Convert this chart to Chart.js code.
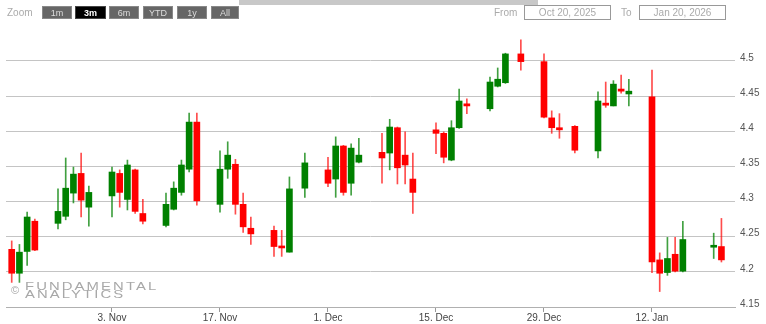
<!DOCTYPE html>
<html>
<head>
<meta charset="utf-8">
<script src="https://cdn.jsdelivr.net/npm/chart.js@4"></script>
<style>
  html, body { margin: 0; padding: 0; background: #fff; }
  #wrap { position: relative; width: 766px; height: 324px; overflow: hidden; font-family: "Liberation Sans", Arial, sans-serif; }
  #wrap canvas { position: absolute; left: 0; top: 0; }
  .scroll { position: absolute; left: 239px; top: 0; width: 299px; height: 5px; background: #c8c8c8; }
  .zl { position: absolute; left: 7px; top: 7px; font-size: 10px; color: #aaa; }
  .btn { position: absolute; top: 6px; height: 13px; line-height: 13px; font-size: 9px; color: #ddd; background: #666; text-align: center; border: 1px solid #888; box-sizing: border-box; }
  .btn.on { background: #000; color: #fff; font-weight: bold; border-color: #444; }
  .lbl { position: absolute; top: 7px; font-size: 10px; color: #aaa; }
  .inp { position: absolute; top: 5px; height: 15px; line-height: 13px; font-size: 10px; color: #aaa; border: 1px solid #999; box-sizing: border-box; text-align: center; }
  .wm { position: absolute; left: 25px; font-size: 11px; line-height: 11px; letter-spacing: 1.55px; color: #a8a8a8; transform: scaleX(1.35); transform-origin: 0 0; white-space: nowrap; }
  .cp { position: absolute; left: 11px; top: 285px; font-size: 11px; line-height: 11px; color: #a8a8a8; }
</style>
</head>
<body>
<div id="wrap">
  <canvas id="c" width="766" height="324"></canvas>
  <div class="scroll"></div>
  <div class="zl">Zoom</div>
  <div class="btn" style="left:42px;width:30px">1m</div>
  <div class="btn on" style="left:75px;width:31px">3m</div>
  <div class="btn" style="left:109px;width:30px">6m</div>
  <div class="btn" style="left:143px;width:30px">YTD</div>
  <div class="btn" style="left:177px;width:30px">1y</div>
  <div class="btn" style="left:211px;width:28px">All</div>
  <div class="lbl" style="left:494px">From</div>
  <div class="inp" style="left:524px;width:87px">Oct 20, 2025</div>
  <div class="lbl" style="left:621px">To</div>
  <div class="inp" style="left:639px;width:87px">Jan 20, 2026</div>
  <div class="cp">©</div>
  <div class="wm" style="top:281px">FUNDAMENTAL</div>
  <div class="wm" style="top:289px">ANALYTICS</div>
</div>
<script>
// ---- data ----
const dates = [
  "2025-10-21","2025-10-22","2025-10-23","2025-10-24",
  "2025-10-27","2025-10-28","2025-10-29","2025-10-30","2025-10-31",
  "2025-11-03","2025-11-04","2025-11-05","2025-11-06","2025-11-07",
  "2025-11-10","2025-11-11","2025-11-12","2025-11-13","2025-11-14",
  "2025-11-17","2025-11-18","2025-11-19","2025-11-20","2025-11-21",
  "2025-11-24","2025-11-25","2025-11-26","2025-11-28",
  "2025-12-01","2025-12-02","2025-12-03","2025-12-04","2025-12-05",
  "2025-12-08","2025-12-09","2025-12-10","2025-12-11","2025-12-12",
  "2025-12-15","2025-12-16","2025-12-17","2025-12-18","2025-12-19",
  "2025-12-22","2025-12-23","2025-12-24","2025-12-26",
  "2025-12-29","2025-12-30","2025-12-31","2026-01-02",
  "2026-01-05","2026-01-06","2026-01-07","2026-01-08","2026-01-09",
  "2026-01-12","2026-01-13","2026-01-14","2026-01-15","2026-01-16",
  "2026-01-20","2026-01-21"
];
const opens = [
  4.232,4.198,4.229,4.272, 4.269,4.279,4.312,4.340,4.292, 4.308,4.340,4.303,4.345,4.283,
  4.266,4.289,4.313,4.346,4.413, 4.296,4.346,4.353,4.296,4.262, 4.259,4.236,4.228,4.319,
  4.345,4.332,4.379,4.326,4.356, 4.370,4.369,4.405,4.366,4.332, 4.402,4.397,4.359,4.405,4.439,
  4.432,4.464,4.469,4.510, 4.499,4.419,4.405,4.407, 4.372,4.440,4.436,4.460,4.453,
  4.449,4.217,4.199,4.225,4.201, 4.235,4.236
];
const highs = [
  4.244,4.239,4.285,4.275, 4.318,4.362,4.349,4.369,4.322, 4.349,4.345,4.359,4.346,4.303,
  4.312,4.328,4.359,4.426,4.426, 4.372,4.385,4.360,4.312,4.278, 4.265,4.259,4.335,4.369,
  4.363,4.392,4.380,4.382,4.390, 4.397,4.417,4.406,4.399,4.369, 4.412,4.399,4.415,4.460,4.446,
  4.477,4.490,4.511,4.530, 4.510,4.429,4.425,4.408, 4.456,4.470,4.472,4.480,4.474,
  4.487,4.227,4.249,4.249,4.272, 4.255,4.276
];
const lows = [
  4.185,4.185,4.209,4.230, 4.261,4.274,4.298,4.278,4.265, 4.278,4.292,4.288,4.283,4.268,
  4.264,4.288,4.309,4.342,4.295, 4.285,4.333,4.282,4.256,4.239, 4.222,4.222,4.228,4.306,
  4.321,4.306,4.309,4.309,4.355, 4.326,4.345,4.325,4.325,4.283, 4.368,4.355,4.358,4.404,4.425,
  4.429,4.463,4.468,4.487, 4.419,4.397,4.390,4.369, 4.362,4.434,4.436,4.454,4.436,
  4.199,4.172,4.195,4.200,4.200, 4.219,4.214
];
const closes = [
  4.198,4.228,4.278,4.231, 4.286,4.319,4.339,4.302,4.313, 4.342,4.313,4.352,4.286,4.272,
  4.296,4.319,4.352,4.413,4.301, 4.346,4.366,4.296,4.264,4.254, 4.236,4.234,4.318,4.355,
  4.326,4.379,4.313,4.376,4.366, 4.362,4.406,4.348,4.352,4.313, 4.397,4.363,4.405,4.443,4.436,
  4.470,4.474,4.510,4.499, 4.420,4.405,4.402,4.373, 4.443,4.437,4.467,4.457,4.457,
  4.214,4.198,4.219,4.201,4.246, 4.236,4.217
];
const xTickDates = ["2025-11-03","2025-11-17","2025-12-01","2025-12-15","2025-12-29","2026-01-12"];
const xTickLabels = ["3. Nov","17. Nov","1. Dec","15. Dec","29. Dec","12. Jan"];
const yTicks = [4.15, 4.2, 4.25, 4.3, 4.35, 4.4, 4.45, 4.5];

// day numbers counted from Oct 20, 2025
const day0 = Date.UTC(2025, 9, 20);
const toDay = s => { const [y, m, d] = s.split("-").map(Number); return (Date.UTC(y, m - 1, d) - day0) / 86400000; };
const xs = dates.map(toDay);
const xTicks = xTickDates.map(toDay);

const UP = "#008000", DOWN = "#ff0000";
const up = i => closes[i] >= opens[i];

const bodies = xs.map((x, i) => ({ x, y: [opens[i], closes[i]] }));
const wicks = xs.map((x, i) => ({ x, y: [lows[i], highs[i]] }));

const FONT = { family: "'Liberation Sans', Arial, sans-serif", size: 10 };

new Chart(document.getElementById("c"), {
  type: "bar",
  data: {
    datasets: [
      {
        data: bodies, grouped: false, barThickness: 6, minBarLength: 2, borderWidth: 0,
        backgroundColor: xs.map((_, i) => up(i) ? UP : DOWN)
      },
      {
        data: wicks, grouped: false, barThickness: 1, borderWidth: 0,
        backgroundColor: xs.map((_, i) => up(i) ? "rgba(0,128,0,0.75)" : "rgba(255,0,0,0.7)")
      }
    ]
  },
  options: {
    responsive: false,
    animation: false,
    events: [],
    layout: { padding: { left: 6, top: 30, right: 0, bottom: 0 } },
    plugins: { legend: { display: false }, tooltip: { enabled: false } },
    scales: {
      x: {
        type: "linear",
        min: 0.26, max: 94.76,
        offset: false,
        afterBuildTicks: s => { s.ticks = xTicks.map(v => ({ value: v })); },
        afterFit: s => { s.height = 17; },
        grid: { offset: false, drawOnChartArea: false, drawTicks: true, tickLength: 5, color: "#999" },
        border: { display: true, color: "#b0b0b0" },
        ticks: {
          padding: 0, color: "#444", font: FONT, maxRotation: 0, autoSkip: false,
          callback: v => xTickLabels[xTicks.indexOf(v)] || ""
        }
      },
      y: {
        position: "right",
        min: 4.15, max: 4.544,
        afterBuildTicks: s => { s.ticks = yTicks.map(v => ({ value: v })); },
        afterFit: s => { s.width = 31; },
        grid: { color: "#c4c4c4", drawTicks: false },
        border: { display: false },
        ticks: { padding: 5, labelOffset: -3, color: "#555", font: FONT, callback: v => String(+v.toFixed(2)) }
      }
    }
  }
});
</script>
</body>
</html>
